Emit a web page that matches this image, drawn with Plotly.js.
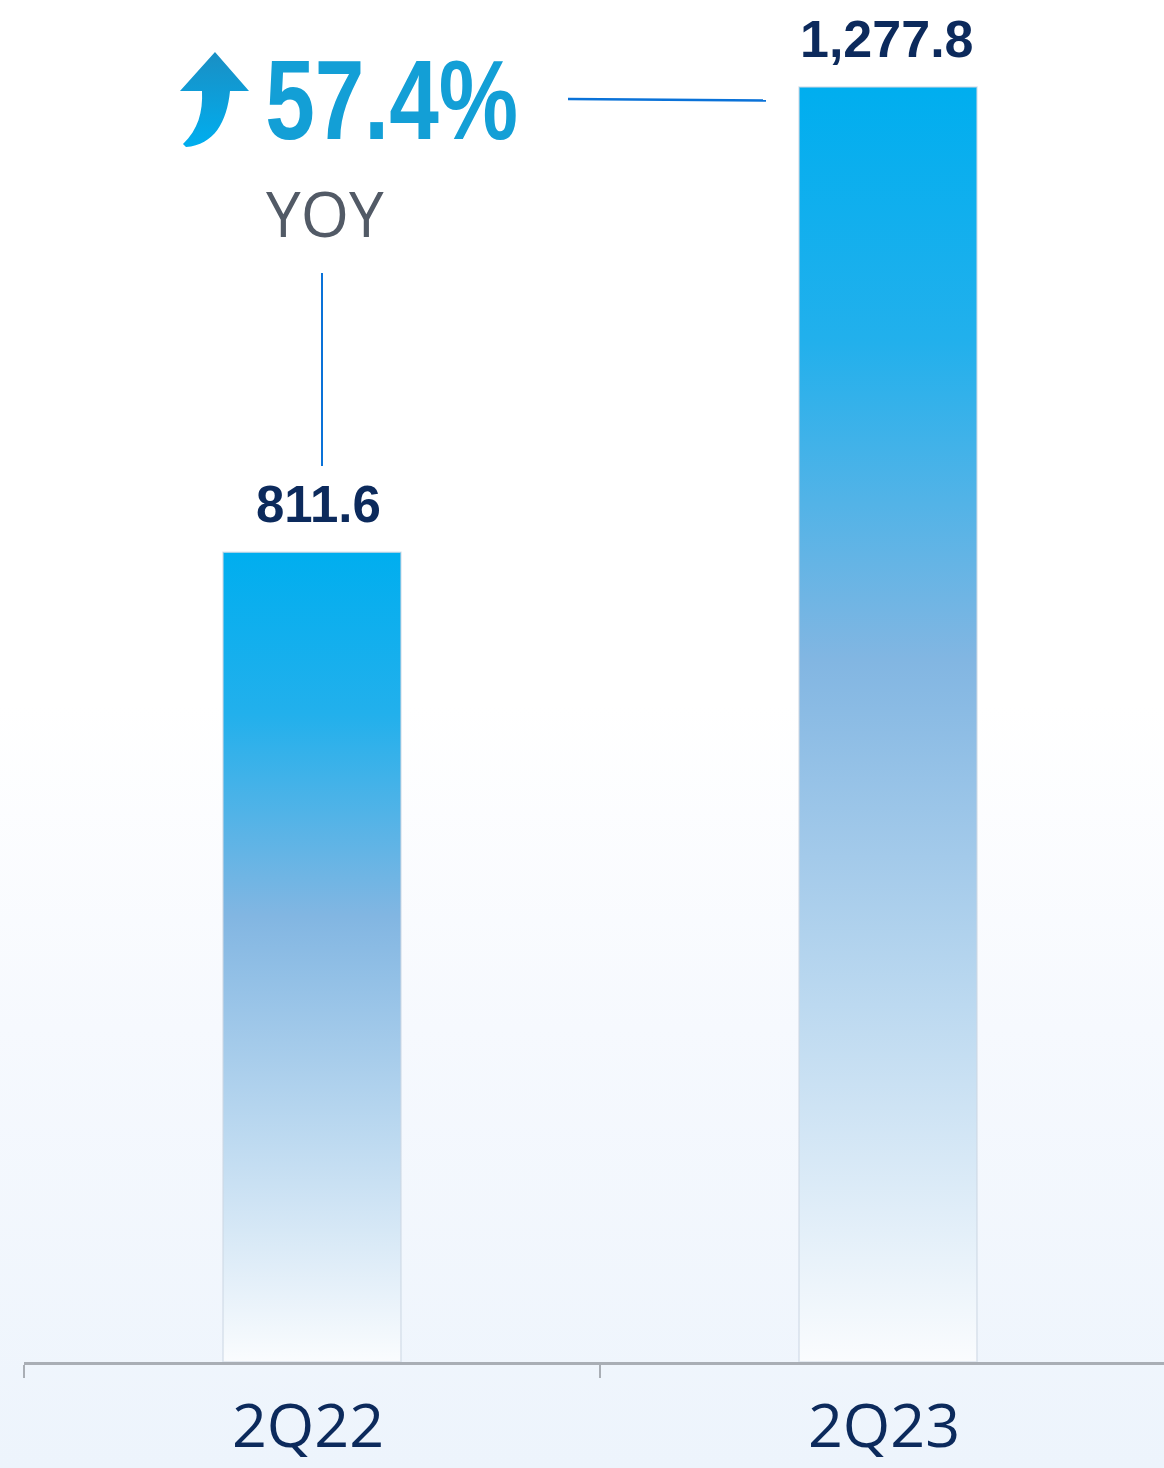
<!DOCTYPE html>
<html>
<head>
<meta charset="utf-8">
<script src="https://cdn.plot.ly/plotly-3.0.1.min.js"></script>
<style>
  html, body { margin: 0; padding: 0; }
  body {
    width: 1164px; height: 1468px; overflow: hidden;
    background: linear-gradient(to bottom, #ffffff 0%, #ffffff 48%, #f6f9fe 70%, #edf4fc 100%);
  }
  #chart { width: 1164px; height: 1468px; }
</style>
</head>
<body>
<div id="chart"></div>
<script>
// ---- data ----
const categories = ['2Q22', '2Q23'];
const values = [811.6, 1277.8];
const yoyText = '57.4%';
const yoyLabel = 'YOY';

// ---- helpers (layout geometry in page pixels -> paper coords) ----
const W = 1164, H = 1468, ML = 24, MB = 106, MT = 0, MR = 0;
const PW = W - ML - MR, PH = H - MT - MB;
const px = x => (x - ML) / PW;
const py = y => (H - MB - y) / PH;
function pathFromPixels(cmds) {
  return cmds.map(c => {
    if (c[0] === 'Z') return 'Z';
    const op = c[0], pts = c.slice(1);
    const out = [];
    for (let i = 0; i < pts.length; i += 2) out.push(px(pts[i]).toFixed(5) + ',' + py(pts[i + 1]).toFixed(5));
    return op + out.join(' ');
  }).join(' ');
}
function fmt(v) { return v.toLocaleString('en-US', {minimumFractionDigits: 1, maximumFractionDigits: 1}); }

const navy = '#0c2a5c';

const trace = {
  type: 'bar',
  x: categories,
  y: values,
  width: 0.309,
  marker: { color: '#00aeef', line: { color: 'rgba(205,215,228,0.7)', width: 1.5 } },
  hoverinfo: 'skip',
  cliponaxis: false
};

const arrowPath = pathFromPixels([
  ['M', 215, 52], ['L', 249, 91], ['L', 230, 91],
  ['C', 227, 122, 214, 145, 186, 147], ['L', 183, 144],
  ['C', 198, 130, 203, 112, 202, 91], ['L', 180, 91], ['Z']
]);

const layout = {
  width: W, height: H,
  margin: { l: ML, r: MR, t: MT, b: MB, pad: 0 },
  paper_bgcolor: 'rgba(0,0,0,0)',
  plot_bgcolor: 'rgba(0,0,0,0)',
  showlegend: false,
  bargap: 0,
  xaxis: {
    type: 'category',
    range: [-0.5, -0.5 + PW / 576],
    showline: true, linecolor: '#a9aeb5', linewidth: 3,
    ticks: 'outside', tickson: 'boundaries', ticklen: 13, tickwidth: 2, tickcolor: '#a9aeb5',
    showgrid: false, zeroline: false,
    tickfont: { family: 'Open Sans, Noto Sans, sans-serif', size: 61, color: navy },
    ticklabelstandoff: 9,
    ticklabelshift: -4,
    fixedrange: true
  },
  yaxis: { visible: false, range: [0, 1365], fixedrange: true },
  annotations: [
    ...categories.map((c, i) => ({
      x: c, y: values[i], xref: 'x', yref: 'y',
      text: '<b>' + fmt(values[i]) + '</b>',
      showarrow: false, yanchor: 'bottom', xanchor: 'center',
      yshift: 17, xshift: i === 0 ? 6 : -1,
      font: { family: 'Liberation Sans, Arial, sans-serif', size: i === 0 ? 51 : 52, color: navy }
    })),
    {
      x: px(391.5), y: py(99), xref: 'paper', yref: 'paper',
      text: '<b>' + yoyText + '</b>', showarrow: false,
      xanchor: 'center', yanchor: 'middle',
      font: { family: 'Liberation Sans, Arial, sans-serif', size: 114, color: '#139fd6' }
    },
    {
      x: px(325), y: py(213), xref: 'paper', yref: 'paper',
      text: yoyLabel, showarrow: false, xanchor: 'center', yanchor: 'middle',
      font: { family: 'Open Sans, Noto Sans, sans-serif', size: 62, color: '#525a66' }
    }
  ],
  shapes: [
    { type: 'path', xref: 'paper', yref: 'paper', path: arrowPath,
      fillcolor: '#1599d3', line: { width: 0 } },
    { type: 'line', xref: 'paper', yref: 'paper',
      x0: px(322), x1: px(322), y0: py(273), y1: py(466),
      line: { color: '#0a72d8', width: 2 } },
    { type: 'line', xref: 'paper', yref: 'paper',
      x0: px(568), x1: px(766), y0: py(99), y1: py(100.5),
      line: { color: '#0a72d8', width: 2.5 } }
  ]
};

Plotly.newPlot('chart', [trace], layout, { displayModeBar: false, staticPlot: true }).then(gd => {
  const svg = gd.querySelector('svg.main-svg');
  const ns = 'http://www.w3.org/2000/svg';
  let defs = svg.querySelector('defs');
  if (!defs) { defs = document.createElementNS(ns, 'defs'); svg.insertBefore(defs, svg.firstChild); }
  function addGrad(id, stops) {
    const g = document.createElementNS(ns, 'linearGradient');
    g.setAttribute('id', id);
    g.setAttribute('x1', '0'); g.setAttribute('y1', '0');
    g.setAttribute('x2', '0'); g.setAttribute('y2', '1');
    stops.forEach(([o, c]) => {
      const s = document.createElementNS(ns, 'stop');
      s.setAttribute('offset', o); s.setAttribute('stop-color', c);
      g.appendChild(s);
    });
    defs.appendChild(g);
  }
  addGrad('barGrad', [['0', '#00aeef'], ['0.2', '#22b0ec'], ['0.45', '#82b6e2'], ['0.72', '#bcd9f0'], ['1', '#fafcfe']]);
  addGrad('arrowGrad', [['0', '#1a8fc4'], ['1', '#00aeef']]);
  gd.querySelectorAll('.barlayer .point path').forEach(p => { p.style.fill = 'url(#barGrad)'; });
  const shapePaths = gd.querySelectorAll('.shapelayer path');
  if (shapePaths.length) shapePaths[0].style.fill = 'url(#arrowGrad)';
  // condense the big YOY percentage like the reference's narrow display face
  gd.querySelectorAll('.annotation-text').forEach(t => {
    if (t.textContent === yoyText) {
      t.setAttribute('textLength', '253');
      t.setAttribute('lengthAdjust', 'spacingAndGlyphs');
    }
  });
});
</script>
</body>
</html>
